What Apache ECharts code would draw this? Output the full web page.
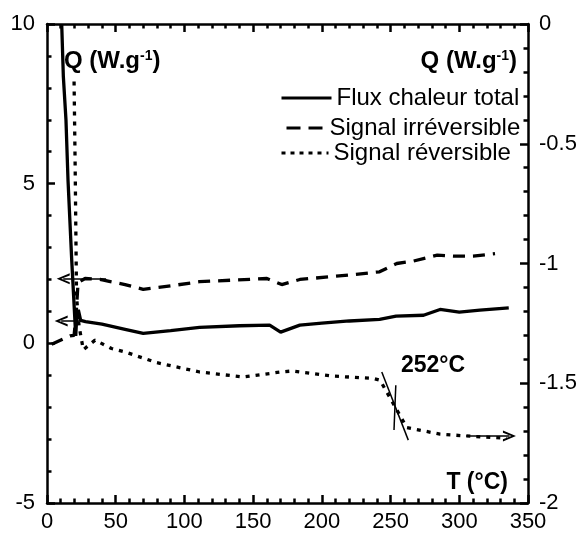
<!DOCTYPE html>
<html><head><meta charset="utf-8">
<script src="https://cdn.jsdelivr.net/npm/echarts@6/dist/echarts.min.js"></script>
<style>html,body{margin:0;padding:0;background:#fff}#c{width:585px;height:533px}</style>
</head><body><div id="c"></div>
<script>
// ---- data ----
const seriesNames = ['Flux chaleur total', 'Signal irréversible', 'Signal réversible'];
const xTicks = [0, 50, 100, 150, 200, 250, 300, 350];
const leftTicks = [-5, 0, 5, 10];
const rightTicks = [-2, -1.5, -1, -0.5, 0];

// Flux chaleur total (left axis, W/g)
const fluxT = [10.7, 11.9, 13.8, 15.3, 18, 20.9, 21.5, 22.8, 24.5, 28, 40, 56.8, 70, 90, 111, 140, 162, 170, 184, 200, 220, 242, 254, 274, 286, 300, 315, 336];
const fluxQ = [10, 8.35, 7.0, 5.1, 2.6, 0.23, 0.7, 1.05, 0.72, 0.68, 0.6, 0.44, 0.31, 0.4, 0.5, 0.55, 0.57, 0.35, 0.57, 0.63, 0.7, 0.75, 0.85, 0.88, 1.06, 0.98, 1.04, 1.11];

// Signal irréversible (left axis, W/g)
const irrT = [3.4, 16.7, 19.7, 21.1, 22.6, 27.7, 38.6, 56.8, 70, 90, 111, 160, 170.8, 184, 220, 242, 254.5, 266, 284, 296, 310, 326];
const irrQ = [-0.03, 0.23, 0.25, 0.85, 1.9, 2.03, 2.0, 1.84, 1.69, 1.8, 1.93, 2.03, 1.84, 2.0, 2.14, 2.24, 2.5, 2.57, 2.76, 2.73, 2.73, 2.81];

// Signal réversible (right axis, W/g)
const revT = [19.7, 20.5, 21.5, 23.3, 26.4, 35, 47, 57, 80, 111, 143, 170, 178, 208, 237.5, 242.4, 261.8, 286, 305, 334.6];
const revQ = [-0.24, -0.6, -1.14, -1.26, -1.36, -1.32, -1.355, -1.37, -1.414, -1.453, -1.474, -1.453, -1.449, -1.47, -1.48, -1.4875, -1.685, -1.7125, -1.72, -1.73];

// annotations
const arrowFlux = [[27.7, 0.7], [10.3, 0.7]];
const arrowIrr = [[43, 2.02], [11.8, 2.02]];
const arrowRev = [[305, -1.72], [336.5, -1.72]];
const tangentA = [[243.6, -1.453], [262.9, -1.7375]];
const tangentB = [[253.8, -1.508], [252.5, -1.695]];

// ---- chart ----
const zip = (a, b) => a.map((v, i) => [v, b[i]]);
const FONT = '"Liberation Sans", Arial, sans-serif';
const BLACK = '#000';
const chevron = 'path://M5,0 L10,10 L8,10 L5,3.5 L2,10 L0,10 Z';

const axisLineCfg = { onZero: false, lineStyle: { color: BLACK, width: 2.5 } };
const tickCfg = { inside: true, length: 8, lineStyle: { color: BLACK, width: 2.5 } };
const minorCfg = { show: true, splitNumber: 5, length: 4.5, lineStyle: { color: BLACK, width: 2.5 } };
const labelCfg = { color: BLACK, fontFamily: FONT, fontSize: 22 };

function markArrow(pts) {
  return [{ coord: pts[0], symbol: 'none' }, { coord: pts[1], symbol: chevron, symbolSize: [11, 13] }];
}
function markPlain(pts) {
  return [{ coord: pts[0], symbol: 'none' }, { coord: pts[1], symbol: 'none' }];
}
const mlBase = { silent: true, animation: false, label: { show: false }, lineStyle: { color: BLACK, width: 1.5, type: 'solid' }, emphasis: { disabled: true } };

const legendText = { color: BLACK, fontFamily: FONT, fontSize: 24, lineHeight: 26 };
const legendCommon = { itemHeight: 10, padding: 0, selectedMode: false, itemStyle: { opacity: 0 }, textStyle: legendText };

const chart = echarts.init(document.getElementById('c'));
chart.setOption({
  animation: false,
  backgroundColor: '#fff',
  grid: { left: 47, right: 57, top: 24, bottom: 29, containLabel: false },
  xAxis: [
    { type: 'value', position: 'bottom', min: 0, max: 350, interval: 50,
      axisLine: axisLineCfg, axisTick: tickCfg, minorTick: minorCfg, splitLine: { show: false },
      axisLabel: Object.assign({ margin: 8 }, labelCfg) },
    { type: 'value', position: 'top', min: 0, max: 350, interval: 50,
      axisLine: axisLineCfg, axisTick: tickCfg, minorTick: minorCfg, splitLine: { show: false },
      axisLabel: { show: false } }
  ],
  yAxis: [
    { type: 'value', position: 'left', min: -5, max: 10, interval: 5,
      axisLine: axisLineCfg, axisTick: tickCfg, minorTick: minorCfg, splitLine: { show: false },
      axisLabel: Object.assign({ margin: 12 }, labelCfg) },
    { type: 'value', position: 'right', min: -2, max: 0, interval: 0.5,
      axisLine: axisLineCfg, axisTick: tickCfg, minorTick: minorCfg, splitLine: { show: false },
      axisLabel: Object.assign({ margin: 11 }, labelCfg) }
  ],
  legend: [
    Object.assign({ data: [seriesNames[0]], left: 280, top: 85, itemWidth: 50, lineStyle: { width: 3, color: BLACK, type: 'solid' } }, legendCommon),
    Object.assign({ data: [seriesNames[1]], left: 285, top: 115, itemWidth: 38, lineStyle: { width: 3, color: BLACK, type: [14, 8] } }, legendCommon),
    Object.assign({ data: [seriesNames[2]], left: 280, top: 140, itemWidth: 47, lineStyle: { width: 3, color: BLACK, type: [4, 5] } }, legendCommon)
  ],
  series: [
    { name: seriesNames[0], type: 'line', xAxisIndex: 0, yAxisIndex: 0, data: zip(fluxT, fluxQ),
      symbol: 'none', color: BLACK, lineStyle: { color: BLACK, width: 3.3, type: 'solid' },
      markLine: Object.assign({ data: [markArrow(arrowFlux)] }, mlBase) },
    { name: seriesNames[1], type: 'line', xAxisIndex: 0, yAxisIndex: 0, data: zip(irrT, irrQ),
      symbol: 'none', color: BLACK, lineStyle: { color: BLACK, width: 3.3, type: [12, 8] },
      markLine: Object.assign({ data: [markArrow(arrowIrr)] }, mlBase) },
    { name: seriesNames[2], type: 'line', xAxisIndex: 0, yAxisIndex: 1, data: zip(revT, revQ),
      symbol: 'none', color: BLACK, lineStyle: { color: BLACK, width: 3.3, type: [4, 6], cap: 'butt' },
      markLine: Object.assign({ data: [markArrow(arrowRev), markPlain(tangentA), markPlain(tangentB)] }, mlBase) }
  ],
  graphic: [
    { type: 'text', x: 64, y: 61, style: { text: 'Q (W.g{s|-1})', fill: BLACK, font: 'bold 24px ' + FONT, verticalAlign: 'middle', align: 'left',
      rich: { s: { fontSize: 14, fontWeight: 'bold', fontFamily: FONT, verticalAlign: 'top', fill: BLACK } } } },
    { type: 'text', x: 517, y: 61, style: { text: 'Q (W.g{s|-1})', fill: BLACK, font: 'bold 24px ' + FONT, verticalAlign: 'middle', align: 'right',
      rich: { s: { fontSize: 14, fontWeight: 'bold', fontFamily: FONT, verticalAlign: 'top', fill: BLACK } } } },
    { type: 'text', x: 401, y: 366, style: { text: '252°C', fill: BLACK, font: 'bold 23px ' + FONT, verticalAlign: 'middle', align: 'left' } },
    { type: 'text', x: 508, y: 483, style: { text: 'T (°C)', fill: BLACK, font: 'bold 23px ' + FONT, verticalAlign: 'middle', align: 'right' } }
  ]
});
</script>
</body></html>
